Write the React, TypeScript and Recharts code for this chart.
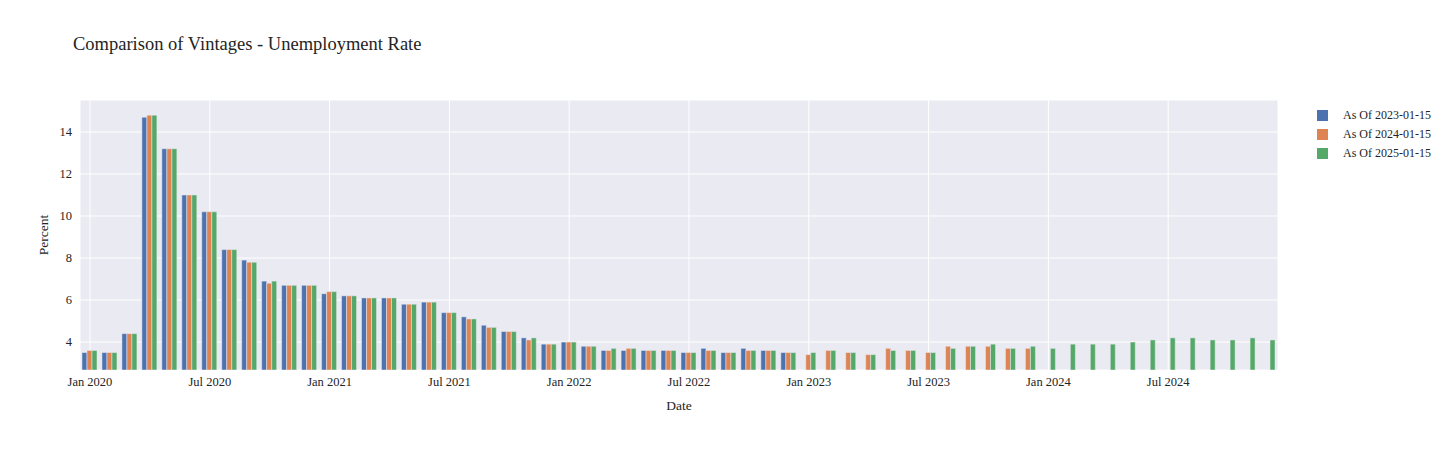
import React from "react";
import {
  BarChart,
  Bar,
  XAxis,
  YAxis,
  CartesianGrid,
} from "recharts";

// monthly observation dates, Jan 2020 .. Dec 2024
const months: string[] = [];
for (let y = 2020; y <= 2024; y++) {
  for (let m = 1; m <= 12; m++) months.push(`${y}-${String(m).padStart(2, "0")}`);
}

const vintage2023: number[] = [
  3.5, 3.5, 4.4, 14.7, 13.2, 11.0, 10.2, 8.4, 7.9, 6.9, 6.7, 6.7,
  6.3, 6.2, 6.1, 6.1, 5.8, 5.9, 5.4, 5.2, 4.8, 4.5, 4.2, 3.9,
  4.0, 3.8, 3.6, 3.6, 3.6, 3.6, 3.5, 3.7, 3.5, 3.7, 3.6, 3.5,
];

const vintage2024: number[] = [
  3.6, 3.5, 4.4, 14.8, 13.2, 11.0, 10.2, 8.4, 7.8, 6.8, 6.7, 6.7,
  6.4, 6.2, 6.1, 6.1, 5.8, 5.9, 5.4, 5.1, 4.7, 4.5, 4.1, 3.9,
  4.0, 3.8, 3.6, 3.7, 3.6, 3.6, 3.5, 3.6, 3.5, 3.6, 3.6, 3.5,
  3.4, 3.6, 3.5, 3.4, 3.7, 3.6, 3.5, 3.8, 3.8, 3.8, 3.7, 3.7,
];

const vintage2025: number[] = [
  3.6, 3.5, 4.4, 14.8, 13.2, 11.0, 10.2, 8.4, 7.8, 6.9, 6.7, 6.7,
  6.4, 6.2, 6.1, 6.1, 5.8, 5.9, 5.4, 5.1, 4.7, 4.5, 4.2, 3.9,
  4.0, 3.8, 3.7, 3.7, 3.6, 3.6, 3.5, 3.6, 3.5, 3.6, 3.6, 3.5,
  3.5, 3.6, 3.5, 3.4, 3.6, 3.6, 3.5, 3.7, 3.8, 3.9, 3.7, 3.8,
  3.7, 3.9, 3.9, 3.9, 4.0, 4.1, 4.2, 4.2, 4.1, 4.1, 4.2, 4.1,
];

const xTicks = ["2020-01", "2020-07", "2021-01", "2021-07", "2022-01", "2022-07", "2023-01", "2023-07", "2024-01", "2024-07"];
const yTicks = [4, 6, 8, 10, 12, 14];

const series = [
  { key: "v2023", name: "As Of 2023-01-15", color: "#4C72B0" },
  { key: "v2024", name: "As Of 2024-01-15", color: "#DD8452" },
  { key: "v2025", name: "As Of 2025-01-15", color: "#55A868" },
];

const data = months.map((date, i) => ({
  date,
  v2023: vintage2023[i] ?? null,
  v2024: vintage2024[i] ?? null,
  v2025: vintage2025[i] ?? null,
}));

const FONT = "'Liberation Serif', serif";
const TEXT = "#242424";
const MONTH_NAMES = ["Jan", "Feb", "Mar", "Apr", "May", "Jun", "Jul", "Aug", "Sep", "Oct", "Nov", "Dec"];

function formatMonth(d: string) {
  const [y, m] = d.split("-");
  return `${MONTH_NAMES[Number(m) - 1]} ${y}`;
}

function LegendBox() {
  return (
    <div style={{ position: "absolute", left: 1317, top: 106, fontFamily: FONT, fontSize: 12, color: TEXT }}>
      {series.map((s) => (
        <div key={s.key} style={{ display: "flex", alignItems: "center", height: 19 }}>
          <span style={{ width: 11, height: 11, background: s.color, display: "inline-block", marginRight: 15 }} />
          <span>{s.name}</span>
        </div>
      ))}
    </div>
  );
}

export default function App() {
  return (
    <div style={{ position: "absolute", left: 0, top: 0, width: 1451, height: 450, background: "#fff" }}>
      <div style={{ position: "absolute", left: 73, top: 34, fontFamily: FONT, fontSize: 18.5, color: TEXT }}>
        Comparison of Vintages - Unemployment Rate
      </div>
      <LegendBox />
      <BarChart
        width={1451}
        height={450}
        data={data}
        margin={{ top: 100, right: 173, left: 0, bottom: 0 }}
        barCategoryGap="10%"
        barGap={0}
      >
        <CartesianGrid fill="#EAEAF2" stroke="#ffffff" strokeWidth={1} />
        <XAxis
          dataKey="date"
          ticks={xTicks}
          interval={0}
          tickFormatter={formatMonth}
          axisLine={false}
          tickLine={false}
          height={80}
          tick={{ fontFamily: FONT, fontSize: 12.5, fill: TEXT }}
          tickMargin={1}
          label={{ value: "Date", position: "insideTop", offset: 30, fontFamily: FONT, fontSize: 13.5, fill: TEXT }}
        />
        <YAxis
          domain={[2.67, 15.52]}
          allowDataOverflow
          ticks={yTicks}
          axisLine={false}
          tickLine={false}
          width={80}
          tick={{ fontFamily: FONT, fontSize: 12.5, fill: TEXT }}
          tickMargin={2}
          label={{ value: "Percent", angle: -90, position: "insideLeft", offset: 43, fontFamily: FONT, fontSize: 13.5, fill: TEXT, style: { textAnchor: "middle" } }}
        />
        {series.map((s) => (
          <Bar
            key={s.key}
            dataKey={s.key}
            name={s.name}
            fill={s.color}
            stroke="#EAEAF2"
            strokeWidth={0.5}
            isAnimationActive={false}
          />
        ))}
      </BarChart>
    </div>
  );
}
